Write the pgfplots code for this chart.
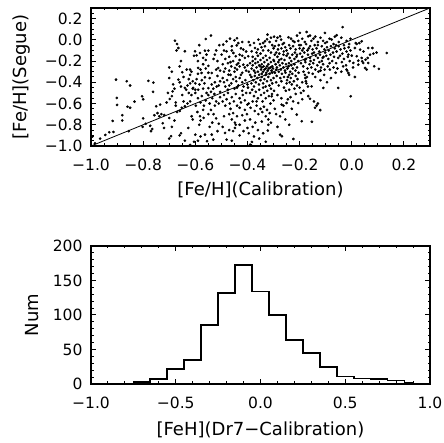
\documentclass[border=0pt]{standalone}
\usepackage{fontspec}
\setmainfont{DejaVu Sans}
\usepackage{pgfplots}
\pgfplotsset{compat=1.18}

\pgfplotsset{idl/.style={
  scale only axis, width=339pt, height=138pt, anchor=south west,
  axis line style={line width=1.6pt}, tick style={black, line width=1pt},
  major tick length=5pt, minor tick length=2.5pt,
  ticklabel style={font=\fontsize{15.5}{15.5}\selectfont},
  xticklabel style={yshift=-9pt}, yticklabel style={xshift=-5pt},
  clip=true}}

\begin{document}
\begin{tikzpicture}
\useasboundingbox (0,0) rectangle (444pt,443pt);

% top: Segue vs calibration
\begin{axis}[idl, at={(91pt,297pt)},
  xmin=-1, xmax=0.3, ymin=-1, ymax=0.3,
  xtick={-1,-0.8,-0.6,-0.4,-0.2,0,0.2},
  xticklabels={−1.0,−0.8,−0.6,−0.4,−0.2,0.0,0.2},
  ytick={-1,-0.8,-0.6,-0.4,-0.2,0,0.2},
  yticklabels={−1.0,−0.8,−0.6,−0.4,−0.2,0.0,0.2},
  minor xtick={-0.95,-0.9,-0.85,-0.75,-0.7,-0.65,-0.55,-0.5,-0.45,-0.35,-0.3,-0.25,-0.15,-0.1,-0.05,0.05,0.1,0.15,0.25},
  minor ytick={-0.95,-0.9,-0.85,-0.75,-0.7,-0.65,-0.55,-0.5,-0.45,-0.35,-0.3,-0.25,-0.15,-0.1,-0.05,0.05,0.1,0.15,0.25},
  xlabel={[Fe/H](Calibration)}, ylabel={[Fe/H](Segue)},
  every axis x label/.style={at={(axis description cs:0.5,-0.32)}, anchor=center, font=\fontsize{18}{18}\selectfont},
  every axis y label/.style={at={(axis description cs:-0.204,0.5)}, anchor=center, rotate=90, font=\fontsize{18}{18}\selectfont}]
\addplot[black, line width=0.8pt] coordinates {(-1,-1) (0.3,0.3)};
\addplot[only marks, mark=*, mark size=1.15pt, black] coordinates {
(-0.994,-0.91) (-0.985,-0.975) (-0.965,-0.93) (-0.945,-0.896) (-0.93,-0.87) (-0.917,-0.764) (-0.914,-0.868) (-0.904,-0.375) (-0.901,-0.547) (-0.90,-0.613)
(-0.88,-0.71) (-0.88,-0.76) (-0.863,-0.39) (-0.85,-0.43) (-0.86,-0.63) (-0.85,-0.64) (-0.855,-0.86) (-0.833,-0.582) (-0.804,-0.532) (-0.80,-0.56)
(-0.78,-0.387) (-0.761,-0.403) (-0.762,-0.49) (-0.80,-0.74) (-0.802,-0.82) (-0.79,-0.79) (-0.773,-0.81) (-0.757,-0.71) (-0.745,-0.69) (-0.738,-0.72)
(-0.73,-0.70) (-0.719,-0.708) (-0.725,-0.786) (-0.75,-0.626) (-0.735,-0.61) (-0.77,-0.86) (-0.765,-0.84) (-0.71,-0.59) (-0.72,-0.83) (-0.705,-0.50)
(-0.678,-0.008) (-0.67,-0.04) (-0.665,-0.077) (-0.672,-0.10) (-0.655,-0.20) (-0.70,-0.26) (-0.69,-0.30) (-0.70,-0.36) (-0.66,-0.40) (-0.665,-0.375)
(-0.655,-0.44) (-0.687,-0.485) (-0.68,-0.46) (-0.698,-0.557) (-0.69,-0.53) (-0.67,-0.68) (-0.66,-0.67) (-0.652,-0.64) (-0.70,-0.736) (-0.69,-0.82)
(-0.693,-0.908) (-0.70,-0.93) (-0.66,-0.90) (-0.655,-0.88) (-0.64,-0.453) (-0.635,-0.47) (-0.63,-0.43) (-0.625,-0.50) (-0.62,-0.41) (-0.615,-0.52)
(-0.61,-0.46) (-0.64,-0.626) (-0.63,-0.60) (-0.62,-0.58) (-0.614,-0.72) (-0.627,-0.83) (-0.64,-0.108) (-0.633,-0.28) (-0.62,-0.28) (-0.615,-0.30)
(-0.62,-0.33) (-0.645,-0.35) (-0.65,-0.52) (-0.645,-0.58) (-0.675,-0.62) (-0.68,-0.76) (-0.61,-0.75) (-0.605,-0.96) (-0.62,-0.99) (-0.64,-0.95)
(-0.66,-0.25) (-0.605,-0.15) (-0.61,-0.39) (-0.625,-0.37) (-0.60,-0.47) (-0.65,-0.305) (-0.685,-0.42) (-0.675,-0.59)
(-0.601,-0.108) (-0.595,-0.146) (-0.582,-0.124) (-0.563,-0.102) (-0.55,-0.102) (-0.557,-0.139) (-0.56,0.008) (-0.54,0.04) (-0.525,-0.139) (-0.52,-0.10)
(-0.589,-0.265) (-0.58,-0.28) (-0.576,-0.312) (-0.563,-0.353) (-0.545,-0.36) (-0.537,-0.312) (-0.52,-0.28) (-0.512,-0.265) (-0.505,-0.29) (-0.59,-0.20)
(-0.57,-0.23) (-0.608,-0.453) (-0.60,-0.50) (-0.589,-0.47) (-0.584,-0.42) (-0.57,-0.46) (-0.565,-0.41) (-0.557,-0.50) (-0.55,-0.455) (-0.537,-0.42)
(-0.531,-0.46) (-0.525,-0.40) (-0.518,-0.44) (-0.51,-0.43) (-0.505,-0.39) (-0.59,-0.55) (-0.58,-0.59) (-0.567,-0.62) (-0.575,-0.53) (-0.56,-0.57)
(-0.55,-0.52) (-0.545,-0.60) (-0.535,-0.55) (-0.525,-0.62) (-0.52,-0.58) (-0.51,-0.60) (-0.505,-0.54) (-0.582,-0.72) (-0.568,-0.735) (-0.535,-0.78)
(-0.52,-0.74) (-0.51,-0.79) (-0.55,-0.70) (-0.60,-0.893) (-0.58,-0.91) (-0.563,-0.893) (-0.537,-0.893) (-0.531,-0.94) (-0.59,-0.95) (-0.555,-0.955)
(-0.515,-0.86) (-0.545,-0.82) (-0.585,-0.80) (-0.57,-0.66) (-0.54,-0.66) (-0.595,-0.37) (-0.55,-0.31) (-0.53,-0.18) (-0.515,-0.20) (-0.508,-0.05)
(-0.585,-0.05) (-0.57,-0.17) (-0.56,-0.19) (-0.598,-0.62) (-0.592,-0.68) (-0.53,-0.70) (-0.55,-0.245) (-0.575,-0.38) (-0.54,-0.49) (-0.505,-0.49)
(-0.515,-0.34) (-0.56,-0.27) (-0.527,-0.51) (-0.60,-0.41) (-0.59,-0.32) (-0.58,-0.76)
(-0.499,-0.139) (-0.493,-0.045) (-0.48,-0.014) (-0.48,-0.108) (-0.467,0.011) (-0.454,-0.124) (-0.45,-0.004) (-0.441,-0.052) (-0.435,-0.03) (-0.416,-0.092)
(-0.445,-0.155) (-0.43,-0.14) (-0.42,-0.15) (-0.41,-0.17) (-0.44,0.015) (-0.46,-0.06) (-0.473,-0.328) (-0.485,-0.27) (-0.49,-0.30) (-0.47,-0.29)
(-0.462,-0.25) (-0.448,-0.265) (-0.441,-0.234) (-0.435,-0.22) (-0.43,-0.25) (-0.416,-0.234) (-0.41,-0.26) (-0.405,-0.29) (-0.40,-0.24) (-0.455,-0.20)
(-0.465,-0.21) (-0.45,-0.30) (-0.42,-0.31) (-0.43,-0.19) (-0.49,-0.40) (-0.485,-0.44) (-0.478,-0.38) (-0.47,-0.43) (-0.462,-0.41) (-0.455,-0.37)
(-0.45,-0.46) (-0.443,-0.39) (-0.435,-0.43) (-0.43,-0.36) (-0.42,-0.40) (-0.415,-0.44) (-0.408,-0.38) (-0.40,-0.42) (-0.495,-0.36) (-0.445,-0.35)
(-0.49,-0.52) (-0.48,-0.56) (-0.475,-0.50) (-0.468,-0.60) (-0.46,-0.54) (-0.452,-0.58) (-0.445,-0.51) (-0.44,-0.62) (-0.43,-0.55) (-0.425,-0.59)
(-0.418,-0.52) (-0.41,-0.57) (-0.40,-0.61) (-0.485,-0.62) (-0.495,-0.58) (-0.49,-0.72) (-0.47,-0.70) (-0.46,-0.75) (-0.455,-0.69) (-0.448,-0.78)
(-0.44,-0.72) (-0.43,-0.80) (-0.42,-0.71) (-0.41,-0.76) (-0.402,-0.70) (-0.486,-0.877) (-0.47,-0.85) (-0.448,-0.83) (-0.445,-0.80) (-0.46,-0.95)
(-0.48,-0.94) (-0.43,-0.90) (-0.415,-0.86) (-0.495,-0.82) (-0.475,-0.47) (-0.465,-0.33) (-0.42,-0.48) (-0.405,-0.50) (-0.495,-0.23) (-0.485,-0.18)
(-0.47,-0.16) (-0.46,-0.10) (-0.425,-0.08) (-0.42,-0.02) (-0.405,-0.11) (-0.44,-0.28) (-0.475,-0.22) (-0.49,-0.10) (-0.43,-0.64) (-0.465,-0.65)
(-0.41,-0.66) (-0.455,-0.86) (-0.40,-0.83) (-0.44,-0.45) (-0.425,-0.33)
(-0.397,-0.155) (-0.384,-0.108) (-0.371,-0.077) (-0.358,0.002) (-0.352,-0.039) (-0.346,-0.07) (-0.333,-0.014) (-0.333,-0.061) (-0.323,0.049) (-0.315,-0.02)
(-0.31,0.02) (-0.305,-0.05) (-0.34,-0.03) (-0.365,-0.12) (-0.39,-0.05) (-0.38,-0.16) (-0.37,-0.18) (-0.36,-0.15) (-0.35,-0.19) (-0.34,-0.17)
(-0.335,-0.21) (-0.33,-0.15) (-0.325,-0.19) (-0.32,-0.23) (-0.315,-0.17) (-0.31,-0.21) (-0.305,-0.25) (-0.30,-0.19) (-0.384,-0.271) (-0.38,-0.24)
(-0.375,-0.29) (-0.37,-0.22) (-0.365,-0.26) (-0.36,-0.30) (-0.355,-0.24) (-0.352,-0.249) (-0.348,-0.28) (-0.345,-0.26) (-0.34,-0.30) (-0.338,-0.25)
(-0.335,-0.28) (-0.33,-0.27) (-0.328,-0.31) (-0.325,-0.25) (-0.322,-0.29) (-0.318,-0.27) (-0.315,-0.32) (-0.312,-0.26) (-0.308,-0.29) (-0.305,-0.31)
(-0.302,-0.27) (-0.395,-0.30) (-0.39,-0.33) (-0.385,-0.35) (-0.378,-0.38) (-0.372,-0.34) (-0.368,-0.40) (-0.362,-0.36) (-0.356,-0.42) (-0.35,-0.38)
(-0.345,-0.35) (-0.34,-0.41) (-0.335,-0.37) (-0.33,-0.44) (-0.325,-0.39) (-0.32,-0.35) (-0.316,-0.43) (-0.31,-0.38) (-0.305,-0.41) (-0.30,-0.36)
(-0.398,-0.45) (-0.39,-0.50) (-0.382,-0.47) (-0.375,-0.53) (-0.368,-0.49) (-0.36,-0.55) (-0.355,-0.47) (-0.348,-0.52) (-0.342,-0.58) (-0.336,-0.50)
(-0.33,-0.55) (-0.324,-0.48) (-0.318,-0.53) (-0.312,-0.60) (-0.306,-0.51) (-0.30,-0.57) (-0.395,-0.60) (-0.388,-0.64) (-0.38,-0.58) (-0.372,-0.67)
(-0.365,-0.62) (-0.358,-0.70) (-0.35,-0.65) (-0.343,-0.68) (-0.337,-0.63) (-0.33,-0.72) (-0.325,-0.66) (-0.32,-0.75) (-0.32,-0.80) (-0.322,-0.855)
(-0.315,-0.69) (-0.31,-0.78) (-0.39,-0.75) (-0.38,-0.82) (-0.37,-0.78) (-0.36,-0.85) (-0.345,-0.77) (-0.34,-0.88) (-0.383,-0.962) (-0.39,-0.987)
(-0.385,-0.995) (-0.375,-0.91) (-0.355,-0.93) (-0.33,-0.96) (-0.395,-0.88) (-0.36,-0.09) (-0.32,-0.10) (-0.31,-0.12) (-0.35,-0.13) (-0.375,-0.03)
(-0.395,-0.02) (-0.30,-0.08) (-0.34,-0.10) (-0.325,0.005) (-0.38,-0.20) (-0.39,-0.22) (-0.36,-0.21) (-0.345,-0.23) (-0.33,-0.33) (-0.345,-0.32)
(-0.355,-0.33) (-0.37,-0.31) (-0.375,-0.44) (-0.34,-0.45) (-0.31,-0.46) (-0.385,-0.41) (-0.365,-0.58)
(-0.298,0.03) (-0.29,-0.01) (-0.285,0.02) (-0.275,0.033) (-0.271,0.002) (-0.26,-0.03) (-0.243,0.024) (-0.233,0.011) (-0.22,-0.02) (-0.21,0.04)
(-0.205,-0.01) (-0.295,-0.06) (-0.28,-0.05) (-0.27,-0.08) (-0.265,-0.04) (-0.255,-0.07) (-0.25,-0.10) (-0.24,-0.05) (-0.235,-0.08) (-0.225,-0.06)
(-0.215,-0.09) (-0.202,-0.05) (-0.29,-0.12) (-0.285,-0.16) (-0.278,-0.13) (-0.27,-0.18) (-0.262,-0.14) (-0.258,-0.19) (-0.25,-0.15) (-0.245,-0.13)
(-0.238,-0.17) (-0.232,-0.20) (-0.228,-0.14) (-0.22,-0.18) (-0.212,-0.16) (-0.205,-0.20) (-0.298,-0.20) (-0.292,-0.23) (-0.287,-0.26) (-0.282,-0.21)
(-0.276,-0.24) (-0.272,-0.28) (-0.266,-0.22) (-0.262,-0.26) (-0.256,-0.29) (-0.252,-0.23) (-0.247,-0.27) (-0.242,-0.25) (-0.236,-0.30) (-0.232,-0.24)
(-0.226,-0.27) (-0.22,-0.23) (-0.216,-0.29) (-0.21,-0.26) (-0.204,-0.31) (-0.295,-0.31) (-0.288,-0.34) (-0.28,-0.30) (-0.274,-0.36) (-0.268,-0.32)
(-0.26,-0.35) (-0.254,-0.31) (-0.248,-0.38) (-0.24,-0.33) (-0.234,-0.36) (-0.228,-0.32) (-0.222,-0.39) (-0.215,-0.34) (-0.208,-0.37) (-0.29,-0.40)
(-0.28,-0.43) (-0.27,-0.39) (-0.26,-0.45) (-0.25,-0.41) (-0.24,-0.47) (-0.23,-0.42) (-0.22,-0.46) (-0.21,-0.43) (-0.298,-0.48) (-0.307,-0.532)
(-0.285,-0.52) (-0.27,-0.55) (-0.269,-0.61) (-0.262,-0.62) (-0.25,-0.595) (-0.245,-0.56) (-0.235,-0.54) (-0.225,-0.58) (-0.211,-0.704) (-0.205,-0.595)
(-0.275,-0.72) (-0.265,-0.68) (-0.255,-0.75) (-0.275,-0.893) (-0.268,-0.908) (-0.224,-0.934) (-0.24,-0.80) (-0.295,-0.65) (-0.29,-0.70) (-0.285,-0.82)
(-0.215,-0.51) (-0.23,-0.65) (-0.295,-0.14) (-0.283,-0.09) (-0.241,-0.22) (-0.218,-0.12) (-0.261,-0.11) (-0.20,-0.08) (-0.29,-0.28) (-0.278,-0.19)
(-0.245,-0.35) (-0.238,-0.40) (-0.253,-0.48) (-0.21,-0.14) (-0.226,-0.01)
(-0.199,0.065) (-0.173,0.074) (-0.167,0.033) (-0.147,0.011) (-0.103,0.065) (-0.19,0.01) (-0.18,-0.02) (-0.16,0.04) (-0.155,-0.01) (-0.14,0.03)
(-0.13,-0.02) (-0.12,0.02) (-0.11,-0.01) (-0.195,-0.05) (-0.185,-0.08) (-0.175,-0.04) (-0.17,-0.10) (-0.16,-0.06) (-0.15,-0.09) (-0.142,-0.05)
(-0.135,-0.08) (-0.125,-0.11) (-0.115,-0.06) (-0.105,-0.09) (-0.198,-0.13) (-0.19,-0.16) (-0.182,-0.12) (-0.176,-0.18) (-0.168,-0.14) (-0.16,-0.17)
(-0.152,-0.13) (-0.145,-0.19) (-0.138,-0.15) (-0.13,-0.17) (-0.122,-0.14) (-0.115,-0.20) (-0.108,-0.16) (-0.102,-0.12) (-0.195,-0.22) (-0.186,-0.25)
(-0.178,-0.21) (-0.17,-0.27) (-0.162,-0.23) (-0.155,-0.26) (-0.148,-0.22) (-0.14,-0.28) (-0.132,-0.24) (-0.124,-0.21) (-0.118,-0.26) (-0.11,-0.23)
(-0.104,-0.28) (-0.185,-0.30) (-0.18,-0.33) (-0.178,-0.36) (-0.176,-0.39) (-0.174,-0.41) (-0.172,-0.35) (-0.168,-0.44) (-0.165,-0.31) (-0.15,-0.32)
(-0.14,-0.35) (-0.128,-0.30) (-0.12,-0.38) (-0.109,-0.453) (-0.154,-0.438) (-0.167,-0.53) (-0.16,-0.555) (-0.141,-0.64) (-0.135,-0.62) (-0.13,-0.60)
(-0.145,-0.58) (-0.192,-0.767) (-0.153,-0.772) (-0.121,-0.662) (-0.195,-0.50) (-0.19,-0.56) (-0.185,-0.48) (-0.19,-0.40) (-0.20,-0.45) (-0.106,-0.33)
(-0.19,-0.10) (-0.145,-0.12) (-0.112,-0.17) (-0.158,-0.20) (-0.13,-0.05) (-0.18,-0.19) (-0.12,-0.29) (-0.165,-0.08) (-0.102,-0.03)
(-0.077,0.002) (-0.058,0.043) (-0.035,0.12) (-0.095,-0.02) (-0.085,0.01) (-0.07,-0.04) (-0.065,0.03) (-0.05,-0.02) (-0.04,0.02) (-0.03,-0.05)
(-0.02,-0.01) (-0.01,-0.04) (-0.005,0.01) (-0.095,-0.07) (-0.088,-0.10) (-0.08,-0.06) (-0.072,-0.12) (-0.065,-0.08) (-0.058,-0.11) (-0.05,-0.06)
(-0.043,-0.09) (-0.036,-0.13) (-0.028,-0.08) (-0.02,-0.11) (-0.012,-0.07) (-0.005,-0.10) (-0.098,-0.15) (-0.09,-0.18) (-0.082,-0.14) (-0.075,-0.20)
(-0.068,-0.16) (-0.06,-0.22) (-0.052,-0.17) (-0.045,-0.15) (-0.038,-0.21) (-0.03,-0.18) (-0.022,-0.24) (-0.015,-0.16) (-0.008,-0.20) (-0.092,-0.25)
(-0.084,-0.28) (-0.07,-0.26) (-0.062,-0.31) (-0.055,-0.27) (-0.04,-0.30) (-0.033,-0.25) (-0.018,-0.29) (-0.01,-0.33) (-0.052,-0.453) (-0.08,-0.36)
(-0.095,-0.40) (-0.004,-0.532) (-0.06,-0.05) (-0.085,-0.22) (-0.02,-0.28) (-0.013,-0.312) (-0.013,-0.139)
(0.029,-0.03) (0.038,-0.014) (0.019,-0.039) (0.012,-0.077) (0.032,-0.092) (0.063,-0.077) (0.079,-0.077) (0.083,-0.13) (0.134,-0.124) (0.0,-0.149)
(0.019,-0.155) (0.038,-0.171) (0.061,-0.171) (0.025,-0.196) (0.040,-0.202) (0.053,-0.187) (0.006,-0.218) (0.025,-0.234) (0.044,-0.218) (0.063,-0.218)
(0.051,-0.265) (0.057,-0.28) (0.086,-0.249) (0.104,-0.274) (0.012,-0.35) (0.005,-0.26) (0.015,-0.03) (0.095,-0.12) (0.07,-0.14) (0.045,-0.11)
};
\end{axis}

% bottom: histogram of differences
\begin{axis}[idl, at={(91pt,59pt)},
  xmin=-1, xmax=1, ymin=0, ymax=200,
  xtick={-1,-0.5,0,0.5,1},
  xticklabels={−1.0,−0.5,0.0,0.5,1.0},
  ytick={0,50,100,150,200},
  yticklabels={0,50,100,150,200},
  minor xtick={-0.9,-0.8,-0.7,-0.6,-0.4,-0.3,-0.2,-0.1,0.1,0.2,0.3,0.4,0.6,0.7,0.8,0.9},
  minor ytick={10,20,30,40,60,70,80,90,110,120,130,140,160,170,180,190},
  xlabel={[FeH](Dr7−Calibration)}, ylabel={Num},
  every axis x label/.style={at={(axis description cs:0.5,-0.333)}, anchor=center, font=\fontsize{18}{18}\selectfont},
  every axis y label/.style={at={(axis description cs:-0.174,0.5)}, anchor=center, rotate=90, font=\fontsize{18}{18}\selectfont}]
\addplot[const plot, black, line width=1.7pt] coordinates {
(-1,0) (-0.75,3) (-0.65,7) (-0.55,22) (-0.45,35) (-0.35,86) (-0.25,132) (-0.15,172) (-0.05,134)
(0.05,100) (0.15,64) (0.25,45) (0.35,25) (0.45,11) (0.55,8) (0.65,7) (0.75,5) (0.85,2) (0.90,0) (1,0)};
\end{axis}
\end{tikzpicture}
\end{document}
